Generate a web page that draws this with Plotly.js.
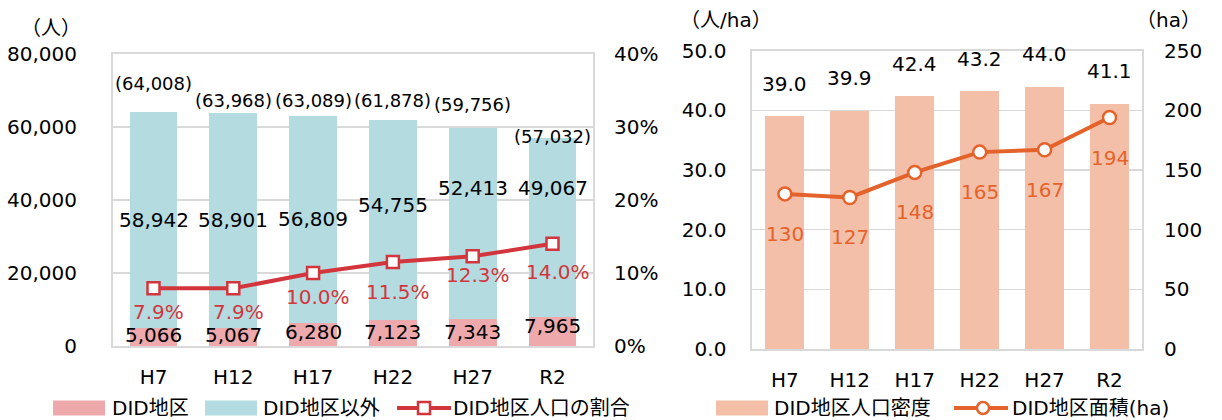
<!DOCTYPE html>
<html>
<head>
<meta charset="utf-8">
<script src="https://cdn.plot.ly/plotly-3.0.1.min.js"></script>
<style>
html,body{margin:0;padding:0;background:#fff;}
#chart{width:1222px;height:420px;}
</style>
</head>
<body>
<div id="chart"></div>
<script>
// ---- data ----
const categories = ['H7','H12','H17','H22','H27','R2'];
const didPop = [5066, 5067, 6280, 7123, 7343, 7965];          // DID地区
const otherPop = [58942, 58901, 56809, 54755, 52413, 49067];  // DID地区以外
const totalPop = [64008, 63968, 63089, 61878, 59756, 57032];  // 合計
const didShare = [7.9, 7.9, 10.0, 11.5, 12.3, 14.0];          // DID地区人口の割合 (%)
const didDensity = [39.0, 39.9, 42.4, 43.2, 44.0, 41.1];      // DID地区人口密度 (人/ha)
const didArea = [130, 127, 148, 165, 167, 194];               // DID地区面積 (ha)

// ---- label placement (manual, as in the original) ----
const totalShiftPx = [29, 12.5, 15.5, 20, 23, 1];
const otherShiftVal = [0, 0, 0, 4100, 9650, 10700];
const didShiftPx = [-7.5, -7.5, -8.7, -11.7, -12.5, -9];
const shareShiftPx = [-23.4, -23.4, -23.7, -29.7, -18.8, -27.9];

const FONT = 'DejaVu Sans, Noto Sans CJK JP, sans-serif';
const W = 1222, H = 420;
const px = v => v / W;
const py = v => 1 - v / H;
const fmt = n => n.toLocaleString('en-US');

const cPink = '#EDA9AB', cBlue = '#B4DBE0', cRed = '#D2363C';
const cPeach = '#F4BFA9', cOrange = '#E4632B', cGrid = '#D9D9D9';

const traces = [
  {type:'bar', name:'DID地区', x:categories, y:didPop, xaxis:'x', yaxis:'y',
   marker:{color:cPink}},
  {type:'bar', name:'DID地区以外', x:categories, y:otherPop, xaxis:'x', yaxis:'y',
   marker:{color:cBlue}},
  {type:'scatter', mode:'lines+markers', name:'DID地区人口の割合', x:categories,
   y:didShare.map(v => v/100), xaxis:'x', yaxis:'y2',
   line:{color:cRed, width:4},
   marker:{symbol:'square', size:12, color:'#fff', line:{color:cRed, width:2.5}}},
  {type:'bar', name:'DID地区人口密度', x:categories, y:didDensity, xaxis:'x2', yaxis:'y3',
   marker:{color:cPeach}},
  {type:'scatter', mode:'lines+markers', name:'DID地区面積(ha)', x:categories, y:didArea,
   xaxis:'x2', yaxis:'y4',
   line:{color:cOrange, width:4},
   marker:{symbol:'circle', size:13, color:'#fff', line:{color:cOrange, width:2.5}}}
];

const ann = [];
categories.forEach((c, i) => {
  ann.push({x:c, y:totalPop[i], xref:'x', yref:'y', text:'(' + fmt(totalPop[i]) + ')',
    showarrow:false, yanchor:'middle', yshift:totalShiftPx[i], font:{size:18}});
  ann.push({x:c, y:didPop[i] + otherPop[i]/2 + otherShiftVal[i], xref:'x', yref:'y',
    text:fmt(otherPop[i]), showarrow:false, yanchor:'middle', font:{size:20}});
  ann.push({x:c, y:didPop[i], xref:'x', yref:'y', text:fmt(didPop[i]),
    showarrow:false, yanchor:'middle', yshift:didShiftPx[i], font:{size:20}});
  ann.push({x:c, y:didShare[i]/100, xref:'x', yref:'y2', text:didShare[i].toFixed(1) + '%',
    showarrow:false, yanchor:'middle', xshift:5, yshift:shareShiftPx[i],
    font:{size:20, color:cRed}});
  ann.push({x:c, y:didDensity[i], xref:'x2', yref:'y3', text:didDensity[i].toFixed(1),
    showarrow:false, yanchor:'middle', yshift:32.5, font:{size:20}});
  ann.push({x:c, y:didArea[i], xref:'x2', yref:'y4', text:String(didArea[i]),
    showarrow:false, yanchor:'middle', yshift:-40, font:{size:20, color:cOrange}});
});

// axis unit titles
ann.push({xref:'paper', yref:'paper', x:px(51), y:py(28), text:'（人）', showarrow:false,
  xanchor:'center', yanchor:'middle', font:{size:20}});
ann.push({xref:'paper', yref:'paper', x:px(726), y:py(20), text:'（人/ha）', showarrow:false,
  xanchor:'center', yanchor:'middle', font:{size:20}});
ann.push({xref:'paper', yref:'paper', x:px(1168), y:py(20), text:'（ha）', showarrow:false,
  xanchor:'center', yanchor:'middle', font:{size:20}});

// custom legends
const legY = 408;
const shapes = [];
function legendText(x, t) {
  ann.push({xref:'paper', yref:'paper', x:px(x), y:py(legY), text:t, showarrow:false,
    xanchor:'left', yanchor:'middle', font:{size:20}});
}
function legendRect(x0, x1, color) {
  shapes.push({type:'rect', xref:'paper', yref:'paper', x0:px(x0), x1:px(x1),
    y0:py(legY+7.5), y1:py(legY-7.5), fillcolor:color, line:{width:0}});
}
legendRect(53, 105, cPink); legendText(110, traces[0].name);
legendRect(205, 257, cBlue); legendText(261, traces[1].name);
shapes.push({type:'line', xref:'paper', yref:'paper', x0:px(397), x1:px(451), y0:py(legY), y1:py(legY),
  line:{color:cRed, width:4}});
shapes.push({type:'rect', xref:'paper', yref:'paper', x0:px(418), x1:px(430), y0:py(legY+6), y1:py(legY-6),
  fillcolor:'#fff', line:{color:cRed, width:2.5}});
legendText(451, traces[2].name);
legendRect(716, 768, cPeach); legendText(772, traces[3].name);
shapes.push({type:'line', xref:'paper', yref:'paper', x0:px(954), x1:px(1008), y0:py(legY), y1:py(legY),
  line:{color:cOrange, width:4}});
shapes.push({type:'circle', xref:'paper', yref:'paper', x0:px(977), x1:px(989), y0:py(legY+6), y1:py(legY-6),
  fillcolor:'#fff', line:{color:cOrange, width:2.5}});
legendText(1010, traces[4].name);

const axisCommon = {showline:true, mirror:true, linecolor:cGrid, linewidth:2,
  zeroline:false, fixedrange:true};

const layout = {
  width:W, height:H, autosize:false,
  margin:{l:0, r:0, t:0, b:0, pad:0},
  paper_bgcolor:'#fff', plot_bgcolor:'#fff',
  font:{family:FONT, size:20, color:'#000'},
  showlegend:false, barmode:'stack', bargap:0.4, hovermode:false,
  xaxis:Object.assign({}, axisCommon, {domain:[px(113), px(593)], anchor:'y',
    type:'category', showgrid:false, ticks:'', ticklabelstandoff:12}),
  yaxis:Object.assign({}, axisCommon, {domain:[1-346/H, 1-54/H], anchor:'x',
    range:[0, 80000], dtick:20000, tickformat:',d', showgrid:true, gridcolor:cGrid, gridwidth:1.5,
    ticks:'', ticklabelstandoff:30}),
  yaxis2:{overlaying:'y', side:'right', anchor:'free', position:px(613),
    range:[0, 0.4], dtick:0.1, tickformat:'.0%', showgrid:false, zeroline:false,
    showline:false, ticks:'', fixedrange:true},
  xaxis2:Object.assign({}, axisCommon, {domain:[px(752.4), px(1142)], anchor:'y3',
    type:'category', showgrid:false, ticks:'', ticklabelstandoff:12}),
  yaxis3:Object.assign({}, axisCommon, {domain:[1-349/H, 1-50.7/H], anchor:'x2',
    range:[0, 50], dtick:10, tickformat:'.1f', showgrid:true, gridcolor:cGrid, gridwidth:1.5,
    ticks:'', ticklabelstandoff:20}),
  yaxis4:{overlaying:'y3', side:'right', anchor:'x2',
    range:[0, 250], dtick:50, showgrid:false, zeroline:false, showline:false,
    ticks:'', ticklabelstandoff:21, fixedrange:true},
  annotations:ann,
  shapes:shapes
};

Plotly.newPlot('chart', traces, layout, {staticPlot:true, displayModeBar:false});
</script>
</body>
</html>
